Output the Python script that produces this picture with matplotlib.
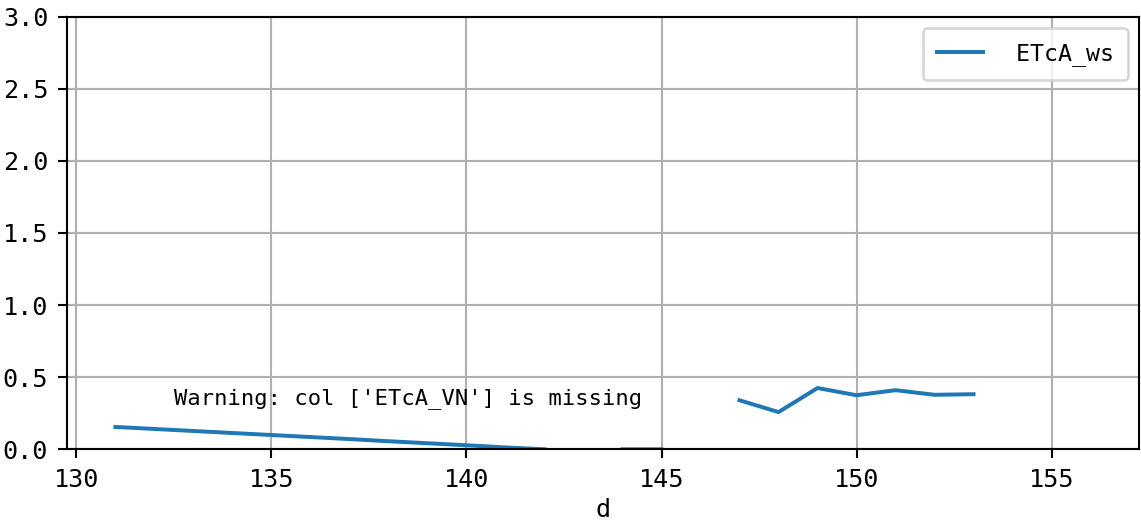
import numpy as np
import matplotlib
matplotlib.use('Agg')
import matplotlib.pyplot as plt

plt.rcParams['font.family'] = ['DejaVu Sans Mono', 'DejaVu Sans']

# data, NaN = missing day
days = np.arange(131, 157)
etca_ws = [0.155, 0.141, 0.127, 0.113, 0.099, 0.085, 0.071, 0.056, 0.042, 0.028, 0.013, 0.0,
           np.nan, 0.0, 0.0, np.nan,
           0.34, 0.258, 0.425, 0.375, 0.41, 0.378, 0.382,
           np.nan, np.nan, np.nan]
warning = "Warning: col ['ETcA_VN'] is missing"

dpi = 190
fig = plt.figure(figsize=(1141 / dpi, 523 / dpi), dpi=dpi)
ax = fig.add_axes([66.7 / 1141, (523 - 449.3) / 523, (1139.3 - 66.7) / 1141, (449.3 - 16.7) / 523])

ax.plot(days, etca_ws, color='#1f77b4', lw=1.5, label=' ETcA_ws')
ax.text(132.5, 0.35, warning, fontsize=8.4, va='center')

ax.set_xlim(129.75, 157.25)
ax.set_ylim(0, 3.0)
ax.set_xticks([130, 135, 140, 145, 150, 155])
ax.set_yticks(np.arange(0, 3.01, 0.5))
ax.set_yticklabels(['%.1f' % v for v in np.arange(0, 3.01, 0.5)])
ax.tick_params(labelsize=9.5)
ax.set_xlabel('d', fontsize=9.5, labelpad=2.5)
ax.grid(True)
ax.legend(loc='upper right', fontsize=8.8, borderpad=0.6)

fig.savefig('out.png', dpi=dpi)
